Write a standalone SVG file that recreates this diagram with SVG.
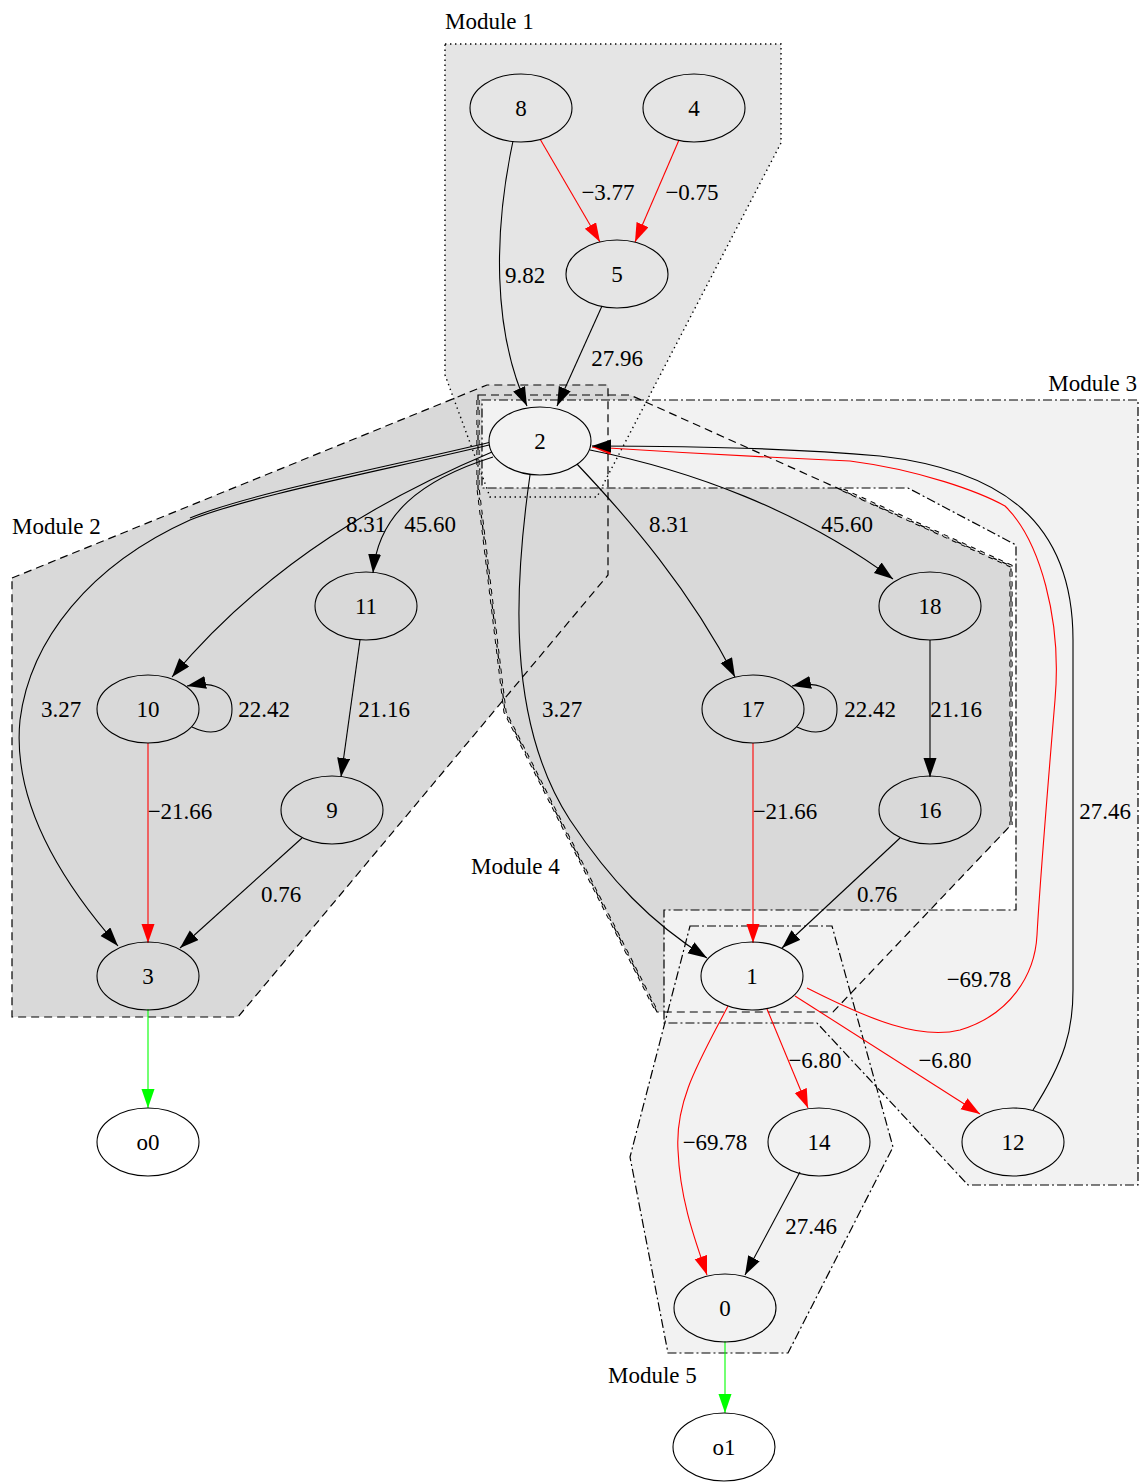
<svg xmlns="http://www.w3.org/2000/svg" width="1145" height="1484" viewBox="0 0 1145 1484">
<style>
text{font-family:"Liberation Serif","Times New Roman",serif;font-size:23px;fill:#000}
.c{text-anchor:middle}
.n{fill:none;stroke:#000;stroke-width:1.1}
.e{fill:none;stroke:#000;stroke-width:1.1}
.r{stroke:#f00}
.g{stroke:#0f0}
.dot{fill:none;stroke:#000;stroke-width:1.4;stroke-dasharray:1.4,3.6}
.dash{fill:none;stroke:#000;stroke-width:1.2;stroke-dasharray:8,5}
.dd{fill:none;stroke:#000;stroke-width:1.2;stroke-dasharray:9,3,2,3}
.dbl1{fill:none;stroke:#000;stroke-width:3.2;stroke-dasharray:5,5}
.dbl2{fill:none;stroke:#d9d9d9;stroke-width:1.2;stroke-dasharray:5,5}
</style>
<defs>
<marker id="ab" markerUnits="userSpaceOnUse" markerWidth="20" markerHeight="14" refX="19" refY="6.5" orient="auto"><path d="M0,0 L19,6.5 L0,13 z" fill="#000"/></marker>
<marker id="ar" markerUnits="userSpaceOnUse" markerWidth="20" markerHeight="14" refX="19" refY="6.5" orient="auto"><path d="M0,0 L19,6.5 L0,13 z" fill="#f00"/></marker>
<marker id="ag" markerUnits="userSpaceOnUse" markerWidth="20" markerHeight="14" refX="19" refY="6.5" orient="auto"><path d="M0,0 L19,6.5 L0,13 z" fill="#0f0"/></marker>
</defs>
<rect width="1145" height="1484" fill="#fff"/>
<g id="cluster-fills">
<polygon id="m1fill" fill="#e5e5e5" points="445,44 781,44 781,143 604,483 597,497 490,497 445,375"/>
<polygon id="m2fill" fill="#d9d9d9" points="12,578 487,385 608,385 608,575 238,1017 12,1017"/>
<polygon id="m4fill" fill="#d9d9d9" points="478,395 630,395 1011,566 1011,825 833,1012 657,1012 505,712 478,488"/>
<polygon id="m3fill" fill="#f2f2f2" points="482,400 1138,400 1138,1185 968,1185 817,1023 664,1023 664,910 1016,910 1016,545 908,488 482,488"/>
<polygon id="m5fill" fill="#f2f2f2" points="690,926 832,926 893,1147 788,1353 668,1353 630,1157"/>
</g>
<g id="cluster-borders">
<polygon id="m1border" class="dot" points="445,44 781,44 781,143 604,483 597,497 490,497 445,375"/>
<polygon id="m2border" class="dash" points="12,578 487,385 608,385 608,575 238,1017 12,1017"/>
<polygon id="m4border" class="dash" points="478,395 630,395 1011,566 1011,825 833,1012 657,1012 505,712 478,488"/>
<path class="dbl1" d="M478,400 L478,488 L505,712 L657,1012"/>
<path class="dbl2" d="M478,400 L478,488 L505,712 L657,1012"/>
<path class="dbl1" d="M843,490 L1011,566 L1011,825"/>
<path class="dbl2" d="M843,490 L1011,566 L1011,825"/>
<polygon id="m3border" class="dd" points="482,400 1138,400 1138,1185 968,1185 817,1023 664,1023 664,910 1016,910 1016,545 908,488 482,488"/>
<polygon id="m5border" class="dd" points="690,926 832,926 893,1147 788,1353 668,1353 630,1157"/>
</g>
<g id="cluster-labels">
<text x="445" y="29">Module 1</text>
<text x="12" y="534">Module 2</text>
<text x="1137" y="391" text-anchor="end">Module 3</text>
<text x="471" y="874">Module 4</text>
<text x="608" y="1383">Module 5</text>
</g>
<g id="edges">
<g id="e8-5"><path class="e r" d="M540,139 L600,242" marker-end="url(#ar)"/><text class="c" x="608" y="200">−3.77</text></g>
<g id="e4-5"><path class="e r" d="M679,140 L635,242" marker-end="url(#ar)"/><text class="c" x="692" y="200">−0.75</text></g>
<g id="e8-2"><path class="e" d="M513,141 C 494,230 492,330 527,406" marker-end="url(#ab)"/><text class="c" x="525" y="283">9.82</text></g>
<g id="e5-2"><path class="e" d="M602,306 L557,406" marker-end="url(#ab)"/><text class="c" x="617" y="366">27.96</text></g>
<g id="e2-3"><path class="e" d="M489,442.5 C 380,468.5 250,493.5 190,518"/><path class="e" d="M489,445 C 380,471 250,496 190,520 C 90,565 30,640 20,720 C 12,800 60,880 118,946" marker-end="url(#ab)"/><text class="c" x="61" y="717">3.27</text></g>
<g id="e2-10"><path class="e" d="M492,452 C 390,495 270,560 172,677" marker-end="url(#ab)"/><text class="c" x="366" y="532">8.31</text></g>
<g id="e2-11"><path class="e" d="M493,457 C 420,480 378,515 373,573" marker-end="url(#ab)"/><text class="c" x="430" y="532">45.60</text></g>
<g id="e2-17"><path class="e" d="M577,464 C 630,520 690,590 735,677" marker-end="url(#ab)"/><text class="c" x="669" y="532">8.31</text></g>
<g id="e2-18"><path class="e" d="M590,450 C 690,470 800,510 893,579" marker-end="url(#ab)"/><text class="c" x="847" y="532">45.60</text></g>
<g id="e2-1"><path class="e" d="M530,475 C 515,580 505,720 570,820 C 610,880 650,922 707,958" marker-end="url(#ab)"/><text class="c" x="562" y="717">3.27</text></g>
<g id="e10-10"><path class="e" d="M192,727 C 215,738 232,730 232,709 C 232,688 212,681 187,686" marker-end="url(#ab)"/><text class="c" x="264" y="717">22.42</text></g>
<g id="e17-17"><path class="e" d="M797,727 C 820,738 837,730 837,709 C 837,688 817,681 792,686" marker-end="url(#ab)"/><text class="c" x="870" y="717">22.42</text></g>
<g id="e11-9"><path class="e" d="M360,640 L341,777" marker-end="url(#ab)"/><text class="c" x="384" y="717">21.16</text></g>
<g id="e18-16"><path class="e" d="M930,640 L930,777" marker-end="url(#ab)"/><text class="c" x="956" y="717">21.16</text></g>
<g id="e10-3"><path class="e r" d="M148,743 L148,943" marker-end="url(#ar)"/><text class="c" x="180" y="819">−21.66</text></g>
<g id="e17-1"><path class="e r" d="M753,743 L753,943" marker-end="url(#ar)"/><text class="c" x="785" y="819">−21.66</text></g>
<g id="e9-3"><path class="e" d="M302,838 L180,948" marker-end="url(#ab)"/><text class="c" x="281" y="902">0.76</text></g>
<g id="e16-1"><path class="e" d="M900,838 L782,948" marker-end="url(#ab)"/><text class="c" x="877" y="902">0.76</text></g>
<g id="e1-2"><path class="e r" d="M807,988 C 870,1020 920,1040 960,1030 C 1010,1015 1035,975 1037,935 C 1040,880 1050,760 1055,700 C 1062,620 1040,540 1005,506 C 980,492 920,470 850,461 C 760,457 670,452 592,447" marker-end="url(#ar)"/><text class="c" x="979" y="987">−69.78</text></g>
<g id="e12-2"><path class="e" d="M1033,1110 C 1065,1060 1073,1030 1073,990 L1073,640 C 1073,520 1000,470 880,456 C 780,447 680,446 592,446" marker-end="url(#ab)"/><text class="c" x="1105" y="819">27.46</text></g>
<g id="e1-14"><path class="e r" d="M767,1009 L808,1108" marker-end="url(#ar)"/><text class="c" x="815" y="1068">−6.80</text></g>
<g id="e1-12"><path class="e r" d="M795,996 L980,1114" marker-end="url(#ar)"/><text class="c" x="945" y="1068">−6.80</text></g>
<g id="e1-0"><path class="e r" d="M728,1006 C 700,1060 675,1100 678,1150 C 680,1200 695,1240 707,1275" marker-end="url(#ar)"/><text class="c" x="715" y="1150">−69.78</text></g>
<g id="e14-0"><path class="e" d="M800,1172 L745,1275" marker-end="url(#ab)"/><text class="c" x="811" y="1234">27.46</text></g>
<g id="e3-o0"><path class="e g" d="M148,1009 L148,1108" marker-end="url(#ag)"/></g>
<g id="e0-o1"><path class="e g" d="M725,1341 L725,1413" marker-end="url(#ag)"/></g>
</g>
<g id="node8"><ellipse class="n" cx="521" cy="108" rx="51" ry="34"/><text class="c" x="521" y="116">8</text></g>
<g id="node4"><ellipse class="n" cx="694" cy="108" rx="51" ry="34"/><text class="c" x="694" y="116">4</text></g>
<g id="node5"><ellipse class="n" cx="617" cy="274" rx="51" ry="34"/><text class="c" x="617" y="282">5</text></g>
<g id="node2"><ellipse class="n" cx="540" cy="441" rx="51" ry="34"/><text class="c" x="540" y="449">2</text></g>
<g id="node11"><ellipse class="n" cx="366" cy="606" rx="51" ry="34"/><text class="c" x="366" y="614">11</text></g>
<g id="node18"><ellipse class="n" cx="930" cy="606" rx="51" ry="34"/><text class="c" x="930" y="614">18</text></g>
<g id="node10"><ellipse class="n" cx="148" cy="709" rx="51" ry="34"/><text class="c" x="148" y="717">10</text></g>
<g id="node17"><ellipse class="n" cx="753" cy="709" rx="51" ry="34"/><text class="c" x="753" y="717">17</text></g>
<g id="node9"><ellipse class="n" cx="332" cy="810" rx="51" ry="34"/><text class="c" x="332" y="818">9</text></g>
<g id="node16"><ellipse class="n" cx="930" cy="810" rx="51" ry="34"/><text class="c" x="930" y="818">16</text></g>
<g id="node3"><ellipse class="n" cx="148" cy="976" rx="51" ry="34"/><text class="c" x="148" y="984">3</text></g>
<g id="node1"><ellipse class="n" cx="752" cy="976" rx="51" ry="34"/><text class="c" x="752" y="984">1</text></g>
<g id="node14"><ellipse class="n" cx="819" cy="1142" rx="51" ry="34"/><text class="c" x="819" y="1150">14</text></g>
<g id="node12"><ellipse class="n" cx="1013" cy="1142" rx="51" ry="34"/><text class="c" x="1013" y="1150">12</text></g>
<g id="node0"><ellipse class="n" cx="725" cy="1308" rx="51" ry="34"/><text class="c" x="725" y="1316">0</text></g>
<g id="nodeo0"><ellipse class="n" cx="148" cy="1142" rx="51" ry="34"/><text class="c" x="148" y="1150">o0</text></g>
<g id="nodeo1"><ellipse class="n" cx="724" cy="1447" rx="51" ry="34"/><text class="c" x="724" y="1455">o1</text></g>
</svg>
